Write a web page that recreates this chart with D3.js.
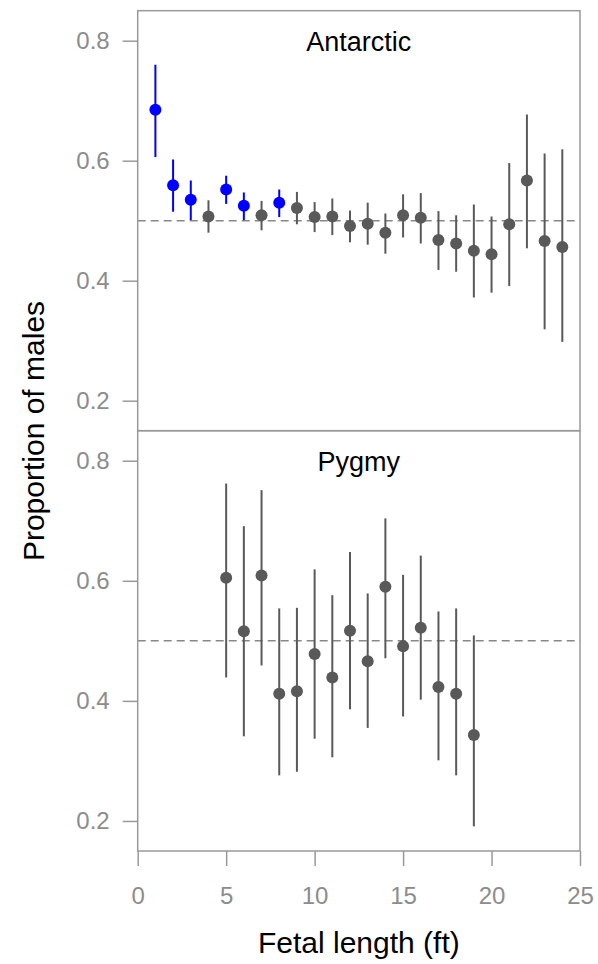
<!DOCTYPE html>
<html>
<head>
<meta charset="utf-8">
<script src="https://cdn.jsdelivr.net/npm/d3@7"></script>
<style>
  body { margin: 0; background: #fff; }
  svg { display: block; font-family: "Liberation Sans", Arial, sans-serif; }
</style>
</head>
<body>
<div id="viz"></div>
<script>
//Datos - Antarctic
const antLength = [1,2,3,4,5,6,7,8,9,10,11,12,13,14,15,16,17,18,19,20,21,22,23,24];
const antProp   = [0.685,0.559,0.535,0.507,0.552,0.525,0.509,0.530,0.521,0.506,0.507,0.491,0.495,0.480,0.509,0.505,0.468,0.462,0.450,0.444,0.494,0.567,0.466,0.456];
const antLow    = [0.606,0.515,0.501,0.480,0.528,0.501,0.484,0.506,0.494,0.481,0.476,0.464,0.460,0.445,0.472,0.462,0.418,0.415,0.372,0.380,0.391,0.454,0.319,0.298];
const antHigh   = [0.760,0.602,0.567,0.534,0.575,0.547,0.533,0.552,0.548,0.531,0.537,0.517,0.530,0.512,0.544,0.546,0.516,0.509,0.527,0.507,0.596,0.677,0.612,0.619];
const antBlue   = [1,2,3,5,6,8];

//Datos - Pygmy
const pygLength = [5,6,7,8,9,10,11,12,13,14,15,16,17,18,19];
const pygProp   = [0.605,0.516,0.609,0.412,0.416,0.478,0.439,0.517,0.466,0.590,0.491,0.522,0.423,0.412,0.343];
const pygLow    = [0.439,0.341,0.459,0.276,0.282,0.337,0.306,0.386,0.355,0.471,0.374,0.402,0.301,0.276,0.191];
const pygHigh   = [0.762,0.691,0.751,0.554,0.555,0.619,0.576,0.648,0.579,0.704,0.610,0.642,0.549,0.554,0.509];

const xTicks = [0,5,10,15,20,25];
const yTicks = [0.2,0.4,0.6,0.8];

//Colores
const COLOR_GREY = '#595959',
      COLOR_BLUE = '#0000FF',
      COLOR_AXIS = '#999999',
      COLOR_TICK = '#8C8C8C',
      COLOR_REF = '#888888';

let W = 598, H = 964;
let left = 137.7, right = 580;
let panels = [
    {name: 'Antarctic', top: 10.7, bottom: 430.7, len: antLength, prop: antProp, low: antLow, high: antHigh, blue: antBlue},
    {name: 'Pygmy', top: 430.7, bottom: 851, len: pygLength, prop: pygProp, low: pygLow, high: pygHigh, blue: []}
];

let svg = d3.select('#viz').append('svg')
    .attr('width', W)
    .attr('height', H);

let x = d3.scaleLinear().domain([0, 25]).range([left, right]);

panels.forEach(function(p) {
    let y = d3.scaleLinear().domain([0.15, 0.85]).range([p.bottom, p.top]);
    let g = svg.append('g');

    // Eje Y
    let ay = g.append('g')
        .attr('transform', 'translate(' + left + ',0)')
        .call(d3.axisLeft(y).tickValues(yTicks).tickFormat(d3.format('.1f')).tickSize(15).tickPadding(13));
    ay.select('.domain').remove();
    ay.selectAll('line').attr('stroke', COLOR_AXIS).attr('stroke-width', 1.5);
    ay.selectAll('text').attr('fill', COLOR_TICK).style('font-size', '24px').style('font-family', '"Liberation Sans", Arial, sans-serif');

    // Linea de referencia
    g.append('line')
        .attr('x1', left).attr('x2', right)
        .attr('y1', y(0.5)).attr('y2', y(0.5))
        .attr('stroke', COLOR_REF).attr('stroke-width', 1.5)
        .attr('stroke-dasharray', '8,5');

    let data = p.len.map(function(d, i) {
        return {len: d, prop: p.prop[i], low: p.low[i], high: p.high[i], blue: p.blue.indexOf(d) >= 0};
    });

    // Intervalos
    g.selectAll('.bar').data(data).enter().append('line')
        .attr('x1', function(d) { return x(d.len); })
        .attr('x2', function(d) { return x(d.len); })
        .attr('y1', function(d) { return y(d.low); })
        .attr('y2', function(d) { return y(d.high); })
        .attr('stroke', function(d) { return d.blue ? COLOR_BLUE : COLOR_GREY; })
        .attr('stroke-width', 2);

    // Puntos
    g.selectAll('.pt').data(data).enter().append('circle')
        .attr('cx', function(d) { return x(d.len); })
        .attr('cy', function(d) { return y(d.prop); })
        .attr('r', 6)
        .attr('fill', function(d) { return d.blue ? COLOR_BLUE : COLOR_GREY; });

    // Caja
    g.append('rect')
        .attr('x', left).attr('y', p.top)
        .attr('width', right - left).attr('height', p.bottom - p.top)
        .attr('fill', 'none').attr('stroke', COLOR_AXIS).attr('stroke-width', 1.5);

    // Titulo del panel
    g.append('text')
        .attr('x', (left + right) / 2)
        .attr('y', p.top + 40)
        .attr('text-anchor', 'middle')
        .style('font-size', '27px')
        .attr('fill', '#000')
        .text(p.name);
});

// Eje X
let ax = svg.append('g')
    .attr('transform', 'translate(0,851)')
    .call(d3.axisBottom(x).tickValues(xTicks).tickSize(15).tickPadding(21));
ax.select('.domain').remove();
ax.selectAll('line').attr('stroke', COLOR_AXIS).attr('stroke-width', 1.5);
ax.selectAll('text').attr('fill', COLOR_TICK).style('font-size', '24px').style('font-family', '"Liberation Sans", Arial, sans-serif');

// Titulos de ejes
svg.append('text')
    .attr('x', (left + right) / 2)
    .attr('y', 953)
    .attr('text-anchor', 'middle')
    .style('font-size', '30px')
    .text('Fetal length (ft)');

svg.append('text')
    .attr('transform', 'translate(44,431)rotate(-90)')
    .attr('text-anchor', 'middle')
    .style('font-size', '30px')
    .text('Proportion of males');
</script>
</body>
</html>
